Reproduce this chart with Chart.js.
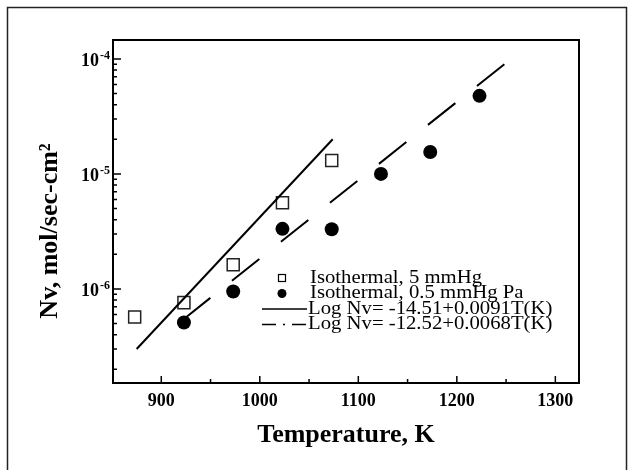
<!DOCTYPE html>
<html>
<head>
<meta charset="utf-8">
<script src="https://cdn.jsdelivr.net/npm/chart.js@4.4.1/dist/chart.umd.min.js"></script>
<style>
html, body { margin: 0; padding: 0; background: #fff; }
#wrap { width: 631px; height: 470px; position: relative; }
</style>
</head>
<body>
<div id="wrap"><canvas id="c"></canvas></div>
<script>
// ---- data ----
const temps5mmHg = [873, 923, 973, 1023, 1073];
const nv5mmHg = [5.7e-7, 7.6e-7, 1.62e-6, 5.6e-6, 1.31e-5];
const temps05mmHg = [923, 973, 1023, 1073, 1123, 1173, 1223];
const nv05mmHg = [5.1e-7, 9.5e-7, 3.33e-6, 3.3e-6, 1.0e-5, 1.55e-5, 4.77e-5];
const fitSolidT = [875, 1074];
const fitSolidNv = [3.0e-7, 2.0e-5];
const fitDashT = [922, 1251];
const fitDashNv = [5.4e-7, 9.4e-5];

const xTickValues = [900, 950, 1000, 1050, 1100, 1150, 1200, 1250, 1300];
const xTickLabels = ['900', '', '1000', '', '1100', '', '1200', '', '1300'];
const yMajorTicks = [1e-6, 1e-5, 1e-4];
const yTickBase = '10';
const yTickExponents = ['-6', '-5', '-4'];
const legendLabels = [
  'Isothermal, 5 mmHg',
  'Isothermal, 0.5 mmHg Pa',
  'Log Nv= -14.51+0.0091T(K)',
  'Log Nv= -12.52+0.0068T(K)'
];
const xTitle = 'Temperature, K';
const yTitle = 'Nv, mol/sec-cm\u00B2';

const X_MIN = 851, X_MAX = 1324;
const Y_MIN = 1.52e-7, Y_MAX = 1.46e-4;

// minor + major log ticks
const yTickValues = [];
for (let e = -7; e <= -4; e++) {
  for (let m = 1; m <= 9; m++) {
    const v = m * Math.pow(10, e);
    if (v >= Y_MIN && v <= Y_MAX) yTickValues.push(v);
  }
}

const FONT = '"Liberation Serif", "Times New Roman", serif';

function toPoints(xs, ys) { return xs.map((x, i) => ({ x: x, y: ys[i] })); }
function isMajorY(v) { return yMajorTicks.findIndex(m => Math.abs(m - v) / m < 1e-6); }

const framePlugin = {
  id: 'frame',
  beforeDraw(chart) {
    const ctx = chart.ctx;
    ctx.save();
    ctx.fillStyle = '#fff';
    ctx.fillRect(0, 0, chart.width, chart.height);
    ctx.strokeStyle = '#222';
    ctx.lineWidth = 1.5;
    ctx.strokeRect(7.5, 7.5, 619, 470);
    ctx.restore();
  },
  afterDraw(chart) {
    const ctx = chart.ctx;
    const a = chart.chartArea;
    const xs = chart.scales.x, ys = chart.scales.y;
    ctx.save();
    ctx.strokeStyle = '#000';
    ctx.lineWidth = 2;
    ctx.strokeRect(a.left, a.top, a.right - a.left, a.bottom - a.top);
    ctx.lineWidth = 1.5;
    ctx.beginPath();
    xs.ticks.forEach(t => {
      const px = xs.getPixelForValue(t.value);
      const len = (t.value % 100 === 0) ? 7 : 4;
      ctx.moveTo(px, a.bottom); ctx.lineTo(px, a.bottom - len);
    });
    ys.ticks.forEach(t => {
      const py = ys.getPixelForValue(t.value);
      const len = isMajorY(t.value) >= 0 ? 8 : 4;
      ctx.moveTo(a.left, py); ctx.lineTo(a.left + len, py);
    });
    ctx.stroke();

    // exponents of the y tick labels (superscript)
    ctx.fillStyle = '#000';
    ctx.font = 'bold 12px ' + FONT;
    ctx.textAlign = 'left';
    ctx.textBaseline = 'alphabetic';
    yMajorTicks.forEach((v, i) => {
      const py = ys.getPixelForValue(v);
      ctx.fillText(yTickExponents[i], a.left - 13, py);
    });

    // legend
    const mx = 282;
    const rows = [278, 293.5, 309, 324.5];
    ctx.lineWidth = 1.2;
    ctx.strokeRect(mx - 3.5, rows[0] - 3.5, 7, 7);
    ctx.beginPath(); ctx.arc(mx, rows[1], 4.5, 0, Math.PI * 2); ctx.fill();
    ctx.lineWidth = 1.6;
    ctx.beginPath(); ctx.moveTo(262, rows[2]); ctx.lineTo(307, rows[2]); ctx.stroke();
    ctx.setLineDash([14, 7, 2, 7]);
    ctx.beginPath(); ctx.moveTo(262, rows[3]); ctx.lineTo(307, rows[3]); ctx.stroke();
    ctx.setLineDash([]);
    ctx.font = '18.5px ' + FONT;
    ctx.textBaseline = 'alphabetic';
    ctx.textAlign = 'left';
    const tx = [310, 310, 308, 308];
    legendLabels.forEach((txt, i) => {
      ctx.save();
      ctx.translate(tx[i], rows[i] + 4.5);
      ctx.scale(1.12, 1);
      ctx.fillText(txt, 0, 0);
      ctx.restore();
    });
    ctx.restore();
  }
};

new Chart(document.getElementById('c'), {
  type: 'scatter',
  data: {
    datasets: [
      {
        label: legendLabels[2],
        data: toPoints(fitSolidT, fitSolidNv),
        showLine: true,
        borderColor: '#000',
        borderWidth: 2,
        pointRadius: 0,
        fill: false
      },
      {
        label: legendLabels[3],
        data: toPoints(fitDashT, fitDashNv),
        showLine: true,
        borderColor: '#000',
        borderWidth: 2,
        borderDash: [35, 27.6],
        pointRadius: 0,
        fill: false
      },
      {
        label: legendLabels[0],
        data: toPoints(temps5mmHg, nv5mmHg),
        showLine: false,
        pointStyle: 'rect',
        pointRadius: 8.5,
        borderColor: '#222',
        borderWidth: 1.5,
        backgroundColor: 'rgba(255,255,255,0)'
      },
      {
        label: legendLabels[1],
        data: toPoints(temps05mmHg, nv05mmHg),
        showLine: false,
        pointStyle: 'circle',
        pointRadius: 7,
        borderColor: '#000',
        borderWidth: 0,
        backgroundColor: '#000'
      }
    ]
  },
  options: {
    responsive: true,
    maintainAspectRatio: false,
    animation: false,
    layout: { padding: { left: 0, right: 52, top: 40, bottom: 0 } },
    plugins: { legend: { display: false }, tooltip: { enabled: false } },
    scales: {
      x: {
        type: 'linear',
        min: X_MIN, max: X_MAX,
        grid: { display: false, drawTicks: false },
        border: { display: false },
        afterBuildTicks: s => { s.ticks = xTickValues.map(v => ({ value: v })); },
        afterFit: s => { s.height = 87; },
        ticks: {
          autoSkip: false, maxRotation: 0, padding: 8, color: '#000',
          font: { family: FONT, size: 18, weight: 'bold' },
          callback: v => { const i = xTickValues.indexOf(v); return i >= 0 ? xTickLabels[i] : ''; }
        },
        title: {
          display: true, text: xTitle, color: '#000',
          font: { family: FONT, size: 26, weight: 'bold' },
          padding: { top: 0, bottom: 19 }
        }
      },
      y: {
        type: 'logarithmic',
        min: Y_MIN, max: Y_MAX,
        grid: { display: false, drawTicks: false },
        border: { display: false },
        afterBuildTicks: s => { s.ticks = yTickValues.map(v => ({ value: v })); },
        afterFit: s => { s.width = 113; },
        ticks: {
          autoSkip: false, padding: 14, color: '#000', labelOffset: 2,
          font: { family: FONT, size: 18, weight: 'bold' },
          callback: v => { const i = isMajorY(v); return i >= 0 ? yTickBase : ''; }
        },
        title: {
          display: true, text: yTitle + '\u00A0\u00A0\u00A0\u00A0\u00A0\u00A0', color: '#000',
          font: { family: FONT, size: 26, weight: 'bold' },
          padding: { top: 35, bottom: 0 }
        }
      }
    }
  },
  plugins: [framePlugin]
});
</script>
</body>
</html>
